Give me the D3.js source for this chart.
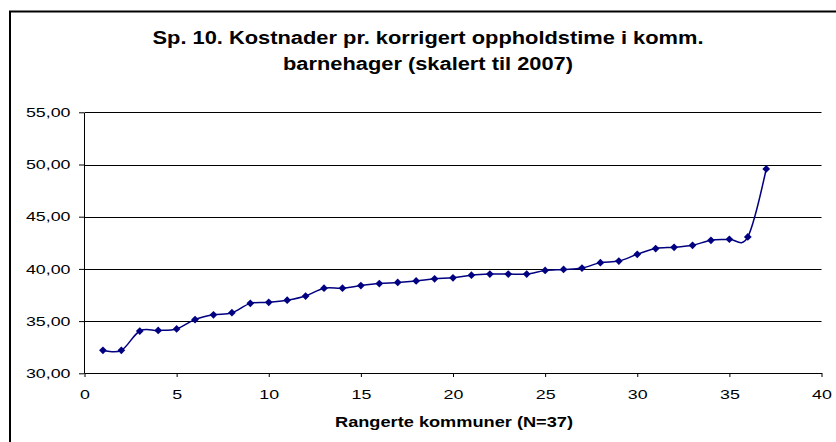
<!DOCTYPE html>
<html>
<head>
<meta charset="utf-8">
<script src="https://cdn.jsdelivr.net/npm/d3@7"></script>
<style>
  body { margin: 0; background: #fff; }
  text { font-family: "Liberation Sans", Arial, sans-serif; }
</style>
</head>
<body>
<script>
// rank of each kommune (1..37) and cost per corrected hour
var ranks = [1, 2, 3, 4, 5, 6, 7, 8, 9, 10, 11, 12, 13, 14, 15, 16, 17, 18, 19,
  20, 21, 22, 23, 24, 25, 26, 27, 28, 29, 30, 31, 32, 33, 34, 35, 36, 37];
var costs = [32.2, 32.2, 34.05, 34.1, 34.25, 35.15, 35.6, 35.8, 36.7, 36.8, 37.0, 37.4,
  38.15, 38.15, 38.4, 38.6, 38.7, 38.85, 39.05, 39.15, 39.4, 39.5, 39.5, 39.5,
  39.85, 39.95, 40.08, 40.6, 40.75, 41.4, 41.95, 42.07, 42.26, 42.74, 42.84, 43.06, 49.57];
var xTicks = [0, 5, 10, 15, 20, 25, 30, 35, 40];
var yTicks = [30, 35, 40, 45, 50, 55];
var titleLines = ["Sp. 10. Kostnader pr. korrigert oppholdstime i komm.", "barnehager (skalert til 2007)"];
var xTitle = "Rangerte kommuner (N=37)";

var width = 836, height = 442;
var stretch = 1.37; // the source picture is wider than it is tall

var data = ranks.map(function(r, i) { return { rank: r, value: costs[i] }; });

var x = d3.scaleLinear().domain([0, 40]).range([84.5, 821.5]);
var y = d3.scaleLinear().domain([30, 55]).range([373.3, 112.3]);

var svg = d3.select('body').append('svg')
  .attr('width', width)
  .attr('height', height);

// outer chart frame (runs off the right and bottom of the picture)
svg.append('rect')
  .attr('x', 10).attr('y', 11.5)
  .attr('width', 850).attr('height', 460)
  .attr('fill', 'none')
  .attr('stroke', '#000')
  .attr('stroke-width', 2);

// title
svg.selectAll('.title')
  .data(titleLines).enter()
  .append('text')
  .attr('class', 'title')
  .attr('x', 428)
  .attr('y', (d, i) => i === 0 ? 44 : 69.5)
  .attr('text-anchor', 'middle')
  .attr('font-size', 18)
  .attr('font-weight', 'bold')
  .attr('textLength', (d, i) => i === 0 ? 551 : 290)
  .attr('lengthAdjust', 'spacingAndGlyphs')
  .text(d => d);

// gridlines
svg.append('g')
  .selectAll('line')
  .data(yTicks.filter(v => v > 30)).enter()
  .append('line')
  .attr('x1', x(0)).attr('x2', x(40))
  .attr('y1', d => Math.round(y(d)) + 0.5)
  .attr('y2', d => Math.round(y(d)) + 0.5)
  .attr('stroke', '#000')
  .attr('stroke-width', 1);

/* axes */
var yAxis = d3.axisLeft(y).tickValues(yTicks).tickSize(5).tickSizeOuter(0)
  .tickFormat(d => d3.format('.2f')(d).replace('.', ','));
var xAxis = d3.axisBottom(x).tickValues(xTicks).tickSize(4).tickSizeOuter(0);

var gy = svg.append('g')
  .attr('transform', 'translate(' + Math.floor(x(0)) + ',0)')
  .call(yAxis);
gy.select('.domain').attr('stroke', '#000');
gy.selectAll('.tick line').attr('stroke', '#000');
gy.selectAll('.tick text')
  .attr('font-family', '"Liberation Sans", Arial, sans-serif')
  .attr('font-size', 13)
  .attr('fill', '#000')
  .attr('x', -13.5 / stretch)
  .attr('transform', 'scale(' + stretch + ',1)');

var gx = svg.append('g')
  .attr('transform', 'translate(0,' + Math.round(y(30)) + ')')
  .call(xAxis);
gx.select('.domain').attr('stroke', '#000');
gx.selectAll('.tick line').attr('stroke', '#000');
gx.selectAll('.tick text')
  .attr('font-family', '"Liberation Sans", Arial, sans-serif')
  .attr('font-size', 13)
  .attr('fill', '#000')
  .attr('y', 17)
  .attr('dy', '0.71em')
  .attr('transform', 'scale(' + stretch + ',1)');

svg.append('text')
  .attr('x', 454)
  .attr('y', 427)
  .attr('text-anchor', 'middle')
  .attr('font-size', 14)
  .attr('font-weight', 'bold')
  .attr('textLength', 238)
  .attr('lengthAdjust', 'spacingAndGlyphs')
  .text(xTitle);

// smoothed line like the spreadsheet chart
var line = d3.line()
  .x(d => x(d.rank))
  .y(d => y(d.value))
  .curve(d3.curveCatmullRom.alpha(0));

svg.append('path')
  .datum(data)
  .attr('d', line)
  .attr('fill', 'none')
  .attr('stroke', '#000080')
  .attr('stroke-width', 1.5);

var diamond = d3.symbol().type(d3.symbolSquare).size(30);
svg.append('g')
  .selectAll('path')
  .data(data).enter()
  .append('path')
  .attr('d', diamond)
  .attr('transform', d => 'translate(' + x(d.rank) + ',' + y(d.value) + ') rotate(45)')
  .attr('fill', '#000080');
</script>
</body>
</html>
